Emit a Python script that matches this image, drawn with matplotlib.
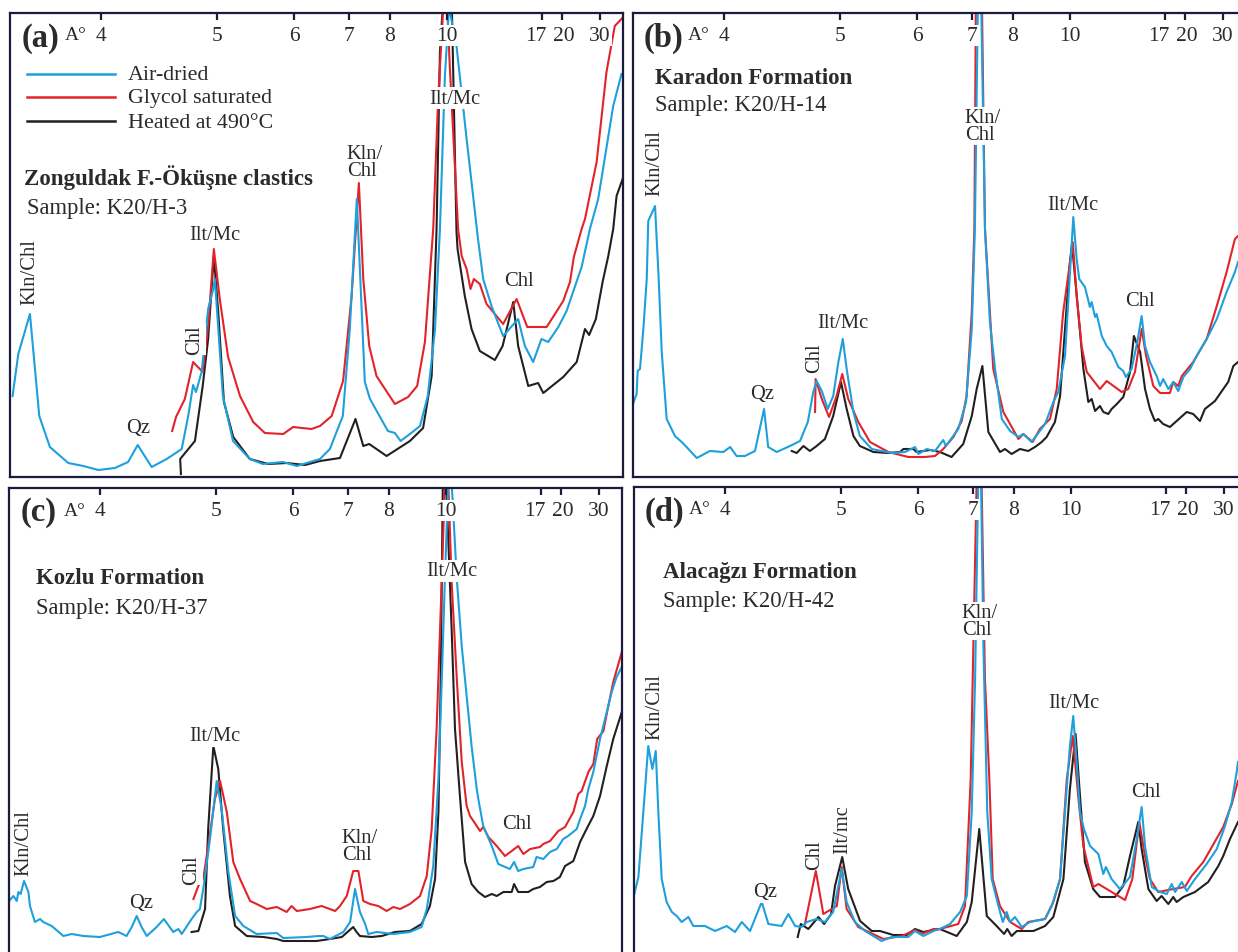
import numpy as np
import matplotlib
matplotlib.use('Agg')
import matplotlib.pyplot as plt
import matplotlib.transforms as mtransforms

plt.rcParams['font.family'] = ['Liberation Serif', 'DejaVu Serif']

# d-spacing tick labels (Angstrom), placed on a Cu K-alpha 2-theta axis
d_ticks = [4, 5, 6, 7, 8, 10, 17, 20, 30]
series_names = ['Air-dried', 'Glycol saturated', 'Heated at 490\u00b0C']
series_colors = ['#1ea0dc', '#e2232a', '#231f20']

# ---- (a) Zonguldak F.-Okusne clastics, K20/H-3 ----
a_air_tth = [25.62, 25.40, 24.95, 24.59, 24.18, 23.47, 22.89, 22.31, 21.67, 21.16, 20.79, 20.25, 19.67, 19.09,
             18.84, 18.65, 18.54, 18.32, 18.07, 17.87, 17.81, 17.50, 17.11, 16.46, 15.96, 15.18, 14.64, 14.14,
             13.75, 13.37, 12.87, 12.60, 12.33, 12.02, 11.82, 11.13, 10.86, 10.64, 10.28, 9.89, 9.59, 9.31,
             9.12, 8.93, 8.77, 8.48, 8.09, 7.65, 7.45, 7.13, 6.68, 6.10, 5.84, 5.52, 5.20, 4.94, 4.55, 4.23,
             3.65, 3.33, 3.01, 2.43, 2.11]
a_air_int = [81, 123, 163, 61, 30, 14, 11, 7, 9, 15, 32, 10, 18, 28,
             61, 92, 85, 105, 168, 188, 198, 81, 36, 18, 13, 15, 11, 15,
             18, 28, 61, 148, 278, 95, 78, 46, 44, 36, 43, 51, 81, 148,
             248, 400, 470, 431, 338, 238, 198, 171, 141, 158, 131, 115, 138, 135, 150, 166,
             210, 248, 278, 371, 403]
a_gly_tth = [19.46, 19.31, 18.97, 18.65, 18.28, 18.07, 17.85, 17.62, 17.30, 16.84, 16.33, 15.88, 15.17, 14.79,
             14.08, 13.75, 13.30, 12.86, 12.53, 12.25, 12.08, 11.85, 11.57, 10.86, 10.35, 10.00, 9.70, 9.38,
             9.19, 8.99, 8.84, 8.74, 8.42, 8.28, 8.09, 7.94, 7.81, 7.58, 7.32, 6.68, 6.16, 5.75, 5.00, 4.36,
             4.10, 3.95, 3.65, 3.52, 3.07, 2.69, 2.37, 2.04]
a_gly_int = [46, 60, 78, 115, 105, 151, 228, 178, 120, 81, 55, 44, 43, 50,
             48, 51, 61, 96, 181, 294, 198, 131, 101, 73, 80, 91, 135, 248,
             378, 470, 470, 411, 248, 221, 208, 188, 198, 193, 173, 153, 178, 150, 150, 176,
             195, 220, 248, 258, 315, 405, 451, 460]
a_hea_tth = [19.12, 19.15, 18.58, 18.28, 18.07, 17.85, 17.68, 17.46, 17.10, 16.46, 15.75, 15.04, 14.33, 13.75,
             12.98, 12.38, 12.08, 11.85, 11.18, 10.28, 9.77, 9.44, 9.25, 9.12, 9.01, 8.66, 8.48, 8.44,
             8.16, 7.90, 7.58, 7.00, 6.70, 6.29, 6.10, 5.71, 5.33, 5.13, 4.36, 3.84, 3.52, 3.36, 3.10,
             2.84, 2.62, 2.43, 2.30, 2.04]
a_hea_int = [3, 18, 36, 91, 138, 221, 165, 75, 40, 18, 13, 14, 12, 16,
             19, 58, 31, 33, 21, 36, 49, 101, 248, 425, 470, 470, 245, 228,
             181, 148, 126, 117, 131, 175, 131, 91, 94, 84, 100, 115, 148, 142, 158,
             195, 221, 248, 281, 300]

# ---- (b) Karadon Formation, K20/H-14 ----
b_air_tth = [25.75, 25.58, 25.54, 25.45, 25.32, 25.19, 25.13, 24.87, 24.74, 24.61, 24.42, 24.10, 23.84, 23.58,
             23.26, 22.75, 22.23, 21.97, 21.72, 21.40, 21.01, 20.66, 20.50, 20.17, 19.66, 19.27, 18.97, 18.76,
             18.63, 18.43, 18.20, 17.99, 17.79, 17.62, 17.47, 17.21, 16.96, 16.50, 16.12, 15.73, 15.22, 14.83,
             14.70, 14.38, 14.06, 13.74, 13.64, 13.16, 12.86, 12.64, 12.52, 12.40, 12.28, 12.13, 11.94, 11.74,
             11.48, 11.16, 10.84, 10.65, 10.33, 9.81, 9.49, 9.30, 9.04, 8.72, 8.59, 8.49, 8.27, 8.08, 8.01,
             7.88, 7.82, 7.62, 7.43, 7.24, 6.98, 6.79, 6.69, 6.47, 6.25, 6.08, 5.95, 5.76, 5.50, 5.37, 5.25,
             5.05, 4.86, 4.67, 4.47, 4.21, 3.96, 3.57, 3.18, 2.80, 2.48, 2.36]
b_air_int = [71, 83, 106, 108, 148, 198, 256, 271, 205, 125, 58, 41, 35, 28,
             19, 26, 25, 30, 21, 21, 26, 68, 30, 25, 31, 36, 55, 85,
             96, 86, 68, 81, 115, 138, 108, 65, 41, 28, 26, 24, 25, 30,
             23, 28, 26, 37, 31, 48, 75, 148, 248, 480, 480, 248, 155, 108,
             58, 46, 40, 43, 35, 53, 75, 85, 121, 260, 218, 198, 190, 170, 175,
             160, 163, 141, 131, 125, 110, 106, 100, 108, 135, 161, 131, 115, 101, 91, 98,
             88, 95, 86, 100, 108, 121, 138, 158, 185, 205, 215]
b_gly_tth = [18.69, 18.67, 18.43, 18.15, 17.86, 17.64, 17.41, 17.02, 16.57, 15.86, 15.09, 14.45, 14.06, 13.74,
             13.35, 13.03, 12.84, 12.64, 12.54, 12.48, 12.25, 12.13, 11.81, 11.42, 10.84, 10.65, 10.29, 10.01,
             9.62, 9.36, 9.11, 8.74, 8.59, 8.40, 8.20, 7.69, 7.43, 6.85, 6.60, 6.34, 6.08, 5.91, 5.63, 5.37,
             4.99, 4.86, 4.67, 4.53, 4.09, 3.57, 3.18, 2.80, 2.48, 2.36]
b_gly_int = [65, 98, 78, 60, 81, 103, 78, 55, 35, 25, 20, 20, 21, 28,
             40, 56, 81, 165, 248, 480, 480, 248, 108, 65, 38, 43, 35, 48,
             58, 88, 165, 235, 181, 131, 105, 88, 96, 85, 88, 105, 148, 121, 91, 84,
             84, 95, 91, 101, 115, 138, 171, 205, 238, 241]
b_hea_tth = [19.59, 19.40, 19.14, 18.89, 18.63, 18.31, 17.99, 17.69, 17.47, 17.21, 16.96, 16.44, 15.86, 15.41,
             15.28, 14.90, 14.77, 14.25, 13.87, 13.42, 12.97, 12.64, 12.45, 12.23, 12.00, 11.55, 11.36, 11.10,
             10.78, 10.46, 10.20, 9.94, 9.75, 9.43, 9.23, 9.04, 8.85, 8.77, 8.53, 8.33, 8.14, 8.01, 7.88, 7.69,
             7.56, 7.37, 7.24, 7.04, 6.79, 6.53, 6.38, 6.14, 5.95, 5.76, 5.57, 5.44, 5.25, 4.99, 4.73, 4.34,
             4.09, 3.83, 3.64, 3.25, 2.93, 2.74, 2.54, 2.36]
b_hea_int = [26, 24, 31, 26, 31, 38, 61, 95, 68, 41, 31, 25, 24, 25,
             28, 28, 25, 27, 25, 20, 33, 61, 88, 111, 45, 25, 28, 23,
             28, 26, 30, 35, 40, 55, 81, 148, 215, 233, 165, 108, 75, 78, 66, 71,
             65, 63, 68, 73, 80, 105, 141, 125, 88, 68, 56, 58, 53, 50, 56, 65,
             63, 56, 68, 76, 88, 95, 111, 115]

# ---- (c) Kozlu Formation, K20/H-37 ----
c_air_tth = [25.75, 25.55, 25.42, 25.36, 25.27, 25.14, 24.97, 24.91, 24.72, 24.52, 24.40, 24.07, 23.62, 23.30,
             22.85, 22.21, 21.50, 21.18, 20.98, 20.79, 20.60, 20.40, 20.02, 19.74, 19.38, 19.18, 19.05, 18.67,
             18.47, 18.35, 18.22, 17.96, 17.70, 17.51, 17.25, 16.99, 16.67, 16.16, 15.38, 15.13, 14.23, 13.78,
             13.58, 13.33, 12.81, 12.55, 12.36, 12.17, 11.97, 11.85, 11.52, 10.88, 10.24, 9.79, 9.59, 9.34,
             9.14, 9.01, 8.89, 8.76, 8.63, 8.43, 8.24, 8.05, 7.86, 7.66, 7.60, 7.41, 7.08, 6.83, 6.38, 6.22,
             6.06, 5.86, 5.48, 5.35, 5.09, 4.83, 4.57, 4.32, 4.13, 3.80, 3.67, 3.48, 3.35, 3.16, 2.90, 2.64,
             2.45, 2.26, 2.06]
c_air_int = [50, 56, 51, 60, 58, 71, 60, 46, 30, 33, 30, 26, 16, 18,
             16, 15, 20, 16, 25, 36, 25, 16, 25, 33, 20, 23, 18, 33,
             40, 43, 63, 113, 171, 143, 80, 36, 26, 18, 19, 14, 15, 16,
             16, 13, 20, 30, 63, 40, 28, 18, 20, 18, 20, 25, 43, 86,
             173, 273, 373, 470, 470, 373, 306, 256, 206, 163, 153, 126, 106, 88, 83, 90,
             81, 83, 85, 95, 93, 100, 103, 113, 116, 123, 133, 146, 163, 180, 213, 240,
             260, 275, 285]
c_gly_tth = [18.60, 18.41, 18.22, 18.03, 17.77, 17.57, 17.31, 17.06, 16.80, 16.41, 16.16, 15.77, 15.38, 15.00,
             14.81, 14.61, 14.10, 13.65, 13.13, 12.94, 12.68, 12.43, 12.23, 12.04, 11.78, 11.46, 11.14, 10.88,
             10.62, 10.24, 9.85, 9.59, 9.40, 9.21, 9.01, 8.89, 8.76, 8.63, 8.43, 8.24, 8.05, 7.92, 7.53, 7.41,
             7.21, 6.89, 6.57, 6.31, 6.06, 5.86, 5.60, 5.22, 5.09, 4.83, 4.51, 4.25, 3.93, 3.74, 3.61, 3.35,
             3.16, 3.01, 2.77, 2.58, 2.39, 2.06]
c_gly_int = [53, 66, 73, 106, 153, 171, 140, 90, 73, 51, 48, 43, 45, 40,
             46, 41, 43, 46, 41, 46, 56, 81, 81, 51, 48, 46, 41, 45,
             43, 48, 56, 76, 123, 223, 373, 470, 470, 370, 273, 190, 146, 136, 121, 125,
             115, 106, 96, 101, 106, 98, 103, 105, 108, 111, 121, 125, 140, 158, 161, 180,
             188, 213, 221, 246, 270, 300]
c_hea_tth = [18.67, 18.41, 18.15, 18.03, 17.83, 17.64, 17.45, 17.19, 16.99, 16.54, 15.90, 15.38, 15.13, 13.84,
             13.33, 12.87, 12.43, 12.30, 12.17, 11.72, 11.33, 10.82, 10.24, 9.79, 9.47, 9.27, 9.14, 9.05,
             8.97, 8.85, 8.76, 8.63, 8.50, 8.31, 8.11, 7.86, 7.60, 7.34, 7.08, 6.89, 6.63, 6.31, 6.22, 6.06,
             5.67, 5.48, 5.22, 4.96, 4.70, 4.45, 4.25, 3.93, 3.67, 3.42, 3.16, 2.90, 2.64, 2.39, 2.06]
c_hea_int = [20, 21, 43, 123, 206, 183, 123, 56, 26, 16, 15, 13, 11, 11,
             13, 15, 25, 20, 16, 15, 16, 20, 21, 28, 46, 73, 140, 273,
             470, 470, 413, 323, 223, 156, 90, 68, 60, 55, 58, 56, 60, 60, 68, 60,
             60, 63, 65, 70, 71, 75, 86, 91, 110, 123, 136, 156, 186, 213, 240]

# ---- (d) Alacaagzi Formation, K20/H-42 ----
d_air_tth = [25.71, 25.55, 25.36, 25.17, 25.01, 24.88, 24.78, 24.65, 24.46, 24.26, 24.07, 23.88, 23.62, 23.43,
             22.98, 22.59, 22.14, 21.82, 21.56, 21.24, 20.79, 20.53, 20.02, 19.76, 19.50, 19.25, 19.05, 18.67,
             18.35, 18.03, 17.70, 17.51, 17.19, 16.80, 16.16, 15.77, 15.13, 14.87, 14.55, 14.16, 13.91, 13.52,
             13.13, 12.87, 12.68, 12.55, 12.43, 12.32, 12.23, 12.08, 11.91, 11.65, 11.48, 11.33, 11.20, 11.01,
             10.75, 10.43, 9.85, 9.59, 9.27, 9.08, 8.89, 8.76, 8.63, 8.50, 8.35, 8.11, 7.79, 7.60, 7.50, 7.28,
             6.96, 6.57, 6.31, 6.12, 5.99, 5.73, 5.41, 5.15, 4.96, 4.83, 4.57, 4.38, 4.06, 3.61, 3.22, 2.90,
             2.64, 2.45, 2.40]
d_air_int = [57, 74, 139, 205, 182, 200, 139, 72, 49, 39, 35, 29, 34, 25,
             25, 20, 25, 19, 29, 20, 49, 27, 25, 37, 25, 24, 29, 32,
             29, 39, 82, 49, 29, 20, 10, 14, 14, 20, 15, 20, 22, 27,
             39, 55, 139, 272, 470, 470, 305, 139, 72, 45, 29, 39, 29, 34,
             24, 29, 32, 45, 72, 139, 205, 235, 189, 139, 122, 105, 97, 77, 84, 72,
             62, 74, 112, 144, 105, 64, 59, 57, 67, 59, 69, 60, 72, 87, 102, 125,
             149, 179, 189]
d_gly_tth = [19.12, 18.70, 18.41, 17.89, 17.70, 17.51, 17.06, 16.09, 15.38, 14.87, 14.61, 14.16, 13.91, 13.20,
             12.94, 12.72, 12.49, 12.30, 12.17, 12.00, 11.87, 11.59, 11.20, 10.75, 10.50, 9.85, 9.53, 9.27,
             9.01, 8.78, 8.57, 8.37, 7.99, 7.79, 7.34, 6.76, 6.48, 6.21, 5.99, 5.80, 5.48, 4.90, 4.45, 4.19,
             3.74, 2.97, 2.64, 2.40]
d_gly_int = [27, 80, 37, 45, 84, 42, 24, 12, 15, 21, 17, 22, 22, 27,
             45, 172, 470, 470, 272, 172, 72, 45, 29, 22, 29, 32, 49, 72,
             172, 215, 155, 105, 64, 67, 60, 51, 72, 129, 95, 72, 59, 62, 64, 75,
             89, 124, 147, 170]
d_hea_tth = [19.40, 19.28, 18.99, 18.60, 18.38, 18.11, 17.96, 17.68, 17.45, 16.99, 16.54, 16.22, 15.71, 15.19,
             14.87, 14.55, 14.16, 13.91, 13.26, 12.87, 12.68, 12.39, 12.10, 11.72, 11.43, 11.31, 11.14, 10.94,
             10.30, 9.85, 9.53, 9.14, 8.89, 8.67, 8.50, 8.31, 7.99, 7.73, 7.15, 6.83, 6.57, 6.25, 6.12, 5.86,
             5.54, 5.35, 5.09, 4.90, 4.77, 4.51, 4.06, 3.55, 3.16, 2.97, 2.71, 2.40]
d_hea_int = [14, 27, 22, 34, 27, 37, 65, 94, 62, 30, 20, 20, 16, 16,
             22, 19, 21, 22, 15, 29, 49, 122, 35, 25, 17, 22, 15, 20,
             20, 25, 34, 72, 162, 217, 155, 89, 62, 54, 54, 65, 95, 129, 102, 62,
             50, 55, 47, 54, 49, 54, 59, 69, 85, 95, 112, 129]

# peak labels: (text, 2theta, intensity, rotation)
a_peaks = [('Kln/Chl', 24.95, 206, 90), ('Qz', 20.79, 50, 0), ('Chl', 18.58, 138, 90),
           ('Ilt/Mc', 17.81, 242, 0), ('Kln/\nChl', 12.02, 315, 0), ('Ilt/Mc', 8.54, 379, 0),
           ('Chl', 6.07, 197, 0)]
b_peaks = [('Kln/Chl', 24.87, 315, 90), ('Qz', 20.74, 83, 0), ('Chl', 18.69, 120, 90),
           ('Ilt/Mc', 17.61, 154, 0), ('Kln/\nChl', 12.21, 351, 0), ('Ilt/Mc', 8.73, 273, 0),
           ('Chl', 6.14, 176, 0)]
c_peaks = [('Kln/Chl', 25.14, 110, 90), ('Qz', 20.62, 49, 0), ('Chl', 18.65, 83, 90),
           ('Ilt/Mc', 17.77, 216, 0), ('Kln/\nChl', 12.17, 106, 0), ('Ilt/Mc', 8.62, 381, 0),
           ('Chl', 6.11, 128, 0)]
d_peaks = [('Kln/Chl', 24.91, 245, 90), ('Qz', 20.66, 59, 0), ('Chl', 18.73, 97, 90),
           ('Ilt/mc', 17.65, 122, 90), ('Kln/\nChl', 12.36, 330, 0), ('Ilt/Mc', 8.73, 248, 0),
           ('Chl', 5.95, 159, 0)]

panel_tags = ['(a)', '(b)', '(c)', '(d)']
panel_titles = ['Zonguldak F.-\u00d6k\u00fc\u015fne clastics', 'Karadon Formation',
                'Kozlu Formation', 'Alaca\u011fz\u0131 Formation']
panel_samples = ['Sample: K20/H-3', 'Sample: K20/H-14', 'Sample: K20/H-37', 'Sample: K20/H-42']

W, H = 1238, 953
fig = plt.figure(figsize=(W / 100, H / 100), dpi=100)

# panel frames in pixels: left, top, width, height (b, c, d run past the page edge)
frames = [(10, 14, 613, 464), (633, 14, 613, 464), (9, 489, 613, 464), (634, 488, 613, 464)]
title_pos = [(0.023, 0.647, 0.028, 0.580), (0.036, 0.862, 0.036, 0.802),
             (0.044, 0.810, 0.044, 0.746), (0.047, 0.821, 0.047, 0.759)]

curves = [
    [(a_air_tth, a_air_int), (a_gly_tth, a_gly_int), (a_hea_tth, a_hea_int)],
    [(b_air_tth, b_air_int), (b_gly_tth, b_gly_int), (b_hea_tth, b_hea_int)],
    [(c_air_tth, c_air_int), (c_gly_tth, c_gly_int), (c_hea_tth, c_hea_int)],
    [(d_air_tth, d_air_int), (d_gly_tth, d_gly_int), (d_hea_tth, d_hea_int)],
]
peaks = [a_peaks, b_peaks, c_peaks, d_peaks]

lam = 1.5406
tick_tth = [2 * np.degrees(np.arcsin(lam / (2 * d))) for d in d_ticks]
# small sideways nudges (px) so that "17" and "20" do not run together
label_nudge = {17: -6, 20: 2}
frame_col = '#1b1b3c'
txt_col = '#2b2b2b'
white_box = dict(facecolor='white', edgecolor='none', pad=1.0)

for i, (l, t, w, h) in enumerate(frames):
    extra = 6 if i >= 2 else 0  # bottom row is cut by the page edge
    ax = fig.add_axes([l / W, (H - t - h - extra) / H, w / W, (h + extra) / H])
    ax.set_xlim(25.72, 25.72 - 613 * 0.03861)
    ax.set_ylim(-extra, 464)
    ax.set_axisbelow(False)
    for sp in ax.spines.values():
        sp.set_color(frame_col)
        sp.set_linewidth(1.6)

    # heated first, then glycol, air-dried on top
    for (xs, ys), col in zip(curves[i][::-1], series_colors[::-1]):
        ax.plot(xs, ys, color=col, lw=1.5, zorder=2)

    ax.set_yticks([])
    ax.xaxis.set_ticks_position('top')
    ax.set_xticks(tick_tth)
    ax.set_xticklabels([])
    ax.tick_params(axis='x', direction='in', length=5, width=1.6, color=frame_col)

    ytick = 1 - 22.5 / (h + extra)
    for d, x in zip(d_ticks, tick_tth):
        off = mtransforms.ScaledTranslation(label_nudge.get(d, 0) / 100, 0, fig.dpi_scale_trans)
        ax.text(x, ytick, str(d), transform=ax.get_xaxis_transform() + off, fontsize=15.5,
                color=txt_col, ha='center', va='center', bbox=white_box, zorder=4)

    ax.text(0.049, 1 - 24 / (h + extra), panel_tags[i], transform=ax.transAxes, fontsize=23.5,
            fontweight='bold', color=txt_col, ha='center', va='center')
    ax.text(0.108, 1 - 22 / (h + extra), 'A\u00b0', transform=ax.transAxes, fontsize=14,
            color=txt_col, ha='center', va='center')

    tx, ty, sx, sy = title_pos[i]
    ax.text(tx, ty, panel_titles[i], transform=ax.transAxes, fontsize=16.5,
            fontweight='bold', color=txt_col, ha='left', va='center')
    ax.text(sx, sy, panel_samples[i], transform=ax.transAxes, fontsize=16.3,
            color=txt_col, ha='left', va='center')

    for txt, px, py, rot in peaks[i]:
        ax.text(px, py, txt, fontsize=14.8, color=txt_col, rotation=rot, ha='center',
                va='center', linespacing=0.8, multialignment='left', bbox=white_box, zorder=4)

    if i == 0:
        for k, (nm, col) in enumerate(zip(series_names, series_colors)):
            yy = [0.8685, 0.819, 0.767][k]
            ax.plot([0.028, 0.171], [yy, yy], color=col, lw=1.8, transform=ax.transAxes)
            ax.text(0.192, yy - 0.002, nm, transform=ax.transAxes, fontsize=15.8,
                    color=txt_col, ha='left', va='center')

fig.savefig('out.png', dpi=100)
